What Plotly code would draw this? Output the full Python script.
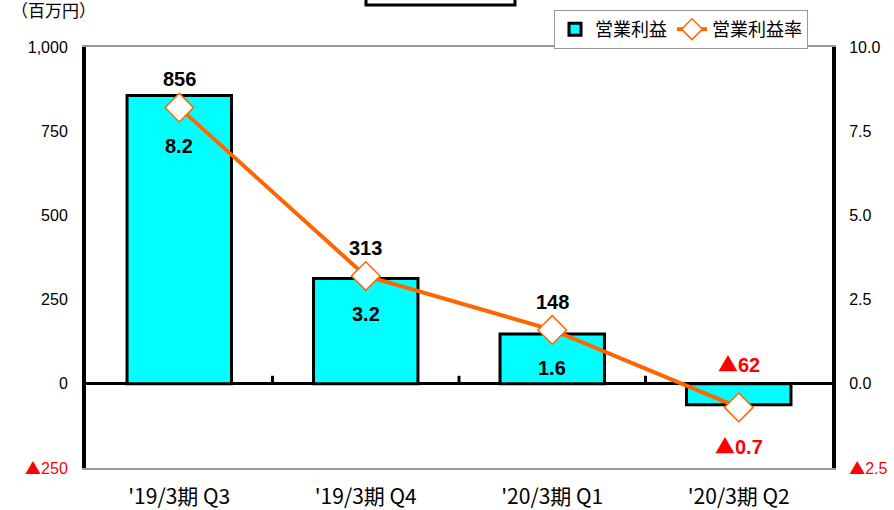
import plotly.graph_objects as go

categories = ["'19/3期 Q3", "'19/3期 Q4", "'20/3期 Q1", "'20/3期 Q2"]
profit = [856, 313, 148, -62]          # 営業利益 (百万円)
margin = [8.2, 3.2, 1.6, -0.7]         # 営業利益率 (%)
left_ticks = [-250, 0, 250, 500, 750, 1000]
right_ticks = [-2.5, 0.0, 2.5, 5.0, 7.5, 10.0]

FONT = "Liberation Sans, Arial, Noto Sans CJK JP, sans-serif"
CJK = "Noto Sans CJK JP, Liberation Sans, sans-serif"
RED = "#FF0000"
TRI = '<span style="font-family:Noto Sans CJK JP">▲</span>'

Y_RANGE = [-250, 1000]
Y2_RANGE = [-2.5, 10]
PLOT_H = 421  # plot-area height in px (510 - top 47 - bottom 42)


def fmt_left(v):
    if v < 0:
        return f'<span style="color:{RED}">{TRI}{abs(v):,}</span>'
    return f"{v:,}"


def fmt_right(v):
    if v < 0:
        return f'<span style="color:{RED}">{TRI}{abs(v):.1f}</span>'
    return f"{v:.1f}"


def px_y(v):
    return (v - Y_RANGE[0]) / (Y_RANGE[1] - Y_RANGE[0]) * PLOT_H


def px_y2(v):
    return (v - Y2_RANGE[0]) / (Y2_RANGE[1] - Y2_RANGE[0]) * PLOT_H


fig = go.Figure()
fig.add_trace(go.Bar(
    x=categories, y=profit, name="営業利益",
    marker=dict(color="#00FFFF", line=dict(color="black", width=3)),
    width=0.56, yaxis="y",
))
fig.add_trace(go.Scatter(
    x=categories, y=margin, name="営業利益率", yaxis="y2",
    mode="lines+markers",
    line=dict(color="#FF6600", width=4),
    marker=dict(symbol="diamond", size=22, color="white",
                line=dict(color="#FF6600", width=1.5)),
))

annotations = []
for c, v, r in zip(categories, profit, margin):
    neg = v < 0
    base = max(v, 0)
    top = max(px_y(base), px_y2(r) + 11)
    annotations.append(dict(
        x=c, y=base, xref="x", yref="y", yanchor="bottom",
        yshift=top - px_y(base) + 4, showarrow=False,
        text=f"<b>{TRI if neg else ''}{abs(v):,}</b>",
        font=dict(family=FONT, size=20, color=RED if neg else "black"),
    ))
for c, v in zip(categories, margin):
    neg = v < 0
    annotations.append(dict(
        x=c, y=v, xref="x", yref="y2", yanchor="middle",
        yshift=-38, showarrow=False,
        text=f"<b>{TRI if neg else ''}{abs(v):.1f}</b>",
        font=dict(family=FONT, size=20, color=RED if neg else "black"),
    ))
annotations.append(dict(
    x=-0.103, y=1 + (47 - 24) / PLOT_H, xref="paper", yref="paper",
    xanchor="left", yanchor="bottom",
    text="（百万円）", showarrow=False,
    font=dict(family=CJK, size=17, color="black"),
))

shapes = []
# small category-boundary ticks on the zero line
for i in range(len(categories) - 1):
    shapes.append(dict(
        type="line", xref="x", x0=i + 0.5, x1=i + 0.5,
        yref="y", ysizemode="pixel", yanchor=0, y0=0, y1=8,
        line=dict(color="black", width=3),
    ))
# partially cut-off title box at the top
shapes.append(dict(
    type="rect", xref="paper", yref="paper",
    x0=(366 - 86) / 746, x1=(515 - 86) / 746,
    y0=1 + (47 - 5) / PLOT_H, y1=1.2,
    line=dict(color="black", width=3), fillcolor="white",
))

fig.update_layout(
    width=894, height=510,
    margin=dict(l=86, r=62, t=47, b=42, autoexpand=False),
    paper_bgcolor="white", plot_bgcolor="white",
    font=dict(family=FONT, size=16, color="black"),
    bargap=0.44,
    showlegend=True,
    legend=dict(
        orientation="h", x=(808 - 86) / 746, xanchor="right",
        y=1 + (47 - 10) / PLOT_H, yanchor="top",
        bgcolor="white", bordercolor="#999999", borderwidth=1,
        font=dict(family=CJK, size=18, color="black"),
        itemwidth=30, tracegroupgap=0,
    ),
    xaxis=dict(
        type="category", showgrid=False, showline=True, mirror=True,
        linecolor="#999999", linewidth=2, ticks="",
        tickfont=dict(family=CJK, size=21, color="black"),
        ticklabelstandoff=9,
    ),
    yaxis=dict(
        range=Y_RANGE, tickvals=left_ticks,
        ticktext=[fmt_left(v) for v in left_ticks],
        showgrid=False, zeroline=True, zerolinecolor="black", zerolinewidth=3,
        showline=True, linecolor="black", linewidth=4, ticks="",
        ticklabelstandoff=11, tickfont=dict(size=16),
    ),
    yaxis2=dict(
        range=Y2_RANGE, tickvals=right_ticks,
        ticktext=[fmt_right(v) for v in right_ticks],
        overlaying="y", side="right", showgrid=False, zeroline=False,
        showline=True, linecolor="black", linewidth=4, ticks="",
        ticklabelstandoff=10, tickfont=dict(size=16),
    ),
    annotations=annotations,
    shapes=shapes,
)

fig.write_html(
    "out.html",
    config={"displayModeBar": False},
    post_script="document.body.style.margin='0';document.body.style.overflow='hidden';",
)
